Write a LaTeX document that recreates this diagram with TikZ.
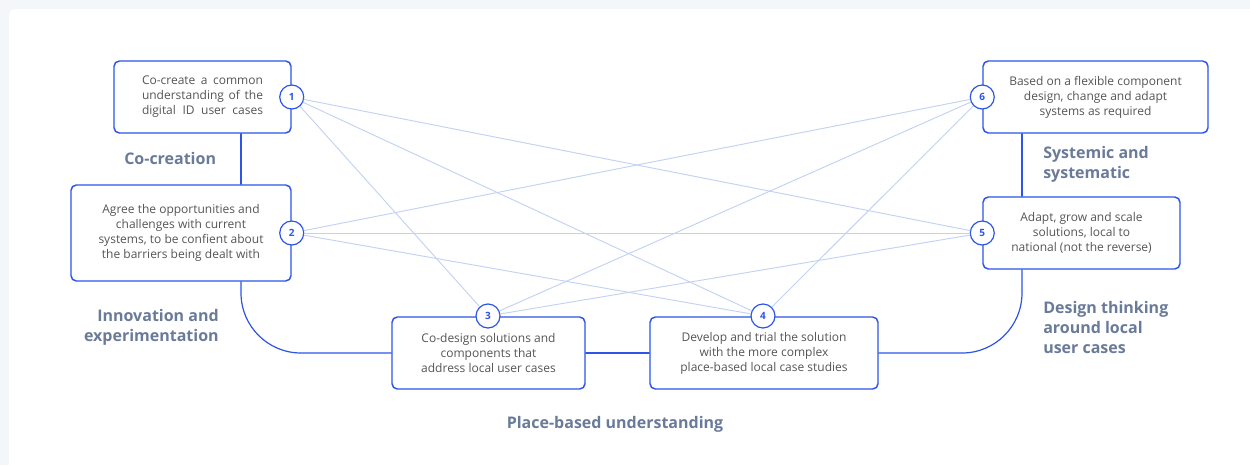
\documentclass[tikz,border=0pt]{standalone}
\usepackage{fontspec}
\setmainfont{Open Sans}

\definecolor{edge}{HTML}{2D56E8}
\definecolor{link}{HTML}{C3D2F3}
\definecolor{head}{HTML}{6A7B9A}
\definecolor{body}{HTML}{555555}
\definecolor{page}{HTML}{F4F7F9}

\tikzset{
  stage/.style={draw=edge,line width=1.1pt,rounded corners=4pt,fill=white,text=body,
    font=\fontsize{9}{11.25}\selectfont,align=center,inner sep=0pt},
  num/.style={circle,draw=edge,line width=.9pt,fill=white,text=edge,minimum size=18pt,
    inner sep=0pt,font=\fontsize{7.5}{8}\selectfont\bfseries},
  theme/.style={text=head,font=\fontsize{12}{15}\selectfont\bfseries,inner sep=0pt},
  conn/.style={draw=edge,line width=.9pt},
}

\begin{document}
\begin{tikzpicture}[x=.75pt,y=-.75pt,line cap=round,line join=round]
  \useasboundingbox (0,0) rectangle (1250,465);
  \fill[page] (0,0) rectangle (1250,465);
  \fill[white,rounded corners=5pt] (9,9) rectangle (1270,485);

  % the six stages, sizes in px
  \node[stage,minimum width={177*.75pt},minimum height={72*.75pt}] (b1) at (202.5,97)
    {\makebox[90.75pt][s]{Co-create a common}\\\makebox[90.75pt][s]{understanding of the}\\\makebox[90.75pt][s]{digital ID user cases}};
  \node[stage,minimum width={220*.75pt},minimum height={96*.75pt}] (b2) at (181,233)
    {Agree the opportunities and\\challenges with current\\systems, to be confient about\\the barriers being dealt with};
  \node[stage,minimum width={193*.75pt},minimum height={72*.75pt}] (b3) at (488.5,353)
    {Co-design solutions and\\components that\\address local user cases};
  \node[stage,minimum width={228*.75pt},minimum height={72*.75pt}] (b4) at (764,353)
    {Develop and trial the solution\\with the more complex\\place-based local case studies};
  \node[stage,minimum width={197*.75pt},minimum height={72*.75pt}] (b5) at (1081.5,233)
    {Adapt, grow and scale\\solutions, local to\\national (not the reverse)};
  \node[stage,minimum width={225*.75pt},minimum height={72*.75pt}] (b6) at (1095.5,97)
    {Based on a flexible component\\design, change and adapt\\systems as required};

  % path through the stages
  \coordinate (lx) at (241,0);
  \coordinate (rx) at (1022,0);
  \draw[conn] (b1.south -| lx) -- (b2.north -| lx);
  \draw[conn,rounded corners=45pt] (b2.south -| lx) |- (b3.west);
  \draw[conn] (b3.east) -- (b4.west);
  \draw[conn,rounded corners=45pt] (b4.east) -| (b5.south -| rx);
  \draw[conn] (b5.north -| rx) -- (b6.south -| rx);

  % numbered markers
  \node[num] (n1) at (b1.east) {1};
  \node[num] (n2) at (b2.east) {2};
  \node[num] (n3) at (488,316) {3};
  \node[num] (n4) at (763,316) {4};
  \node[num] (n5) at (b5.west) {5};
  \node[num] (n6) at (b6.west) {6};

  % cross links
  \foreach \a/\b in {1/3,1/4,1/5,2/4,2/5,2/6,3/5,3/6,4/6}
    \draw[link,line width=.7pt] (n\a) -- (n\b);

  % themes
  \node[theme,anchor=west] (t1) at (124,158) {Co-creation};
  \node[theme,anchor=east,align=right] (t2) at (219,327) {Innovation and\\experimentation};
  \node[theme] (t3) at (615,424) {Place-based understanding};
  \node[theme,anchor=west,align=left] (t4) at (1043,327) {Design thinking\\around local\\user cases};
  \node[theme,anchor=west,align=left] (t5) at (1043,164) {Systemic and\\systematic};
\end{tikzpicture}
\end{document}
